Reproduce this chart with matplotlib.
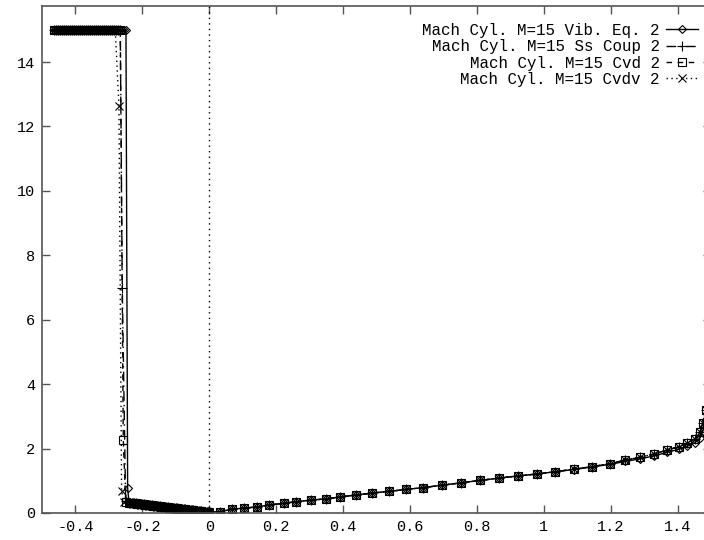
"""Mach number along the stagnation line, cylinder M=15, four models."""

import matplotlib

matplotlib.use("Agg")
import matplotlib.pyplot as plt

# free-stream plateau, shared by all runs
plateau_x = [-0.465, -0.459, -0.453, -0.447, -0.441, -0.435, -0.429, -0.423,
             -0.417, -0.411, -0.405, -0.399, -0.393, -0.387, -0.381, -0.375,
             -0.369, -0.363, -0.357, -0.351, -0.345, -0.339, -0.333, -0.327,
             -0.321, -0.315, -0.309, -0.303, -0.297, -0.291, -0.285]
plateau_y = [15.0] * len(plateau_x)

# shock region, differs per run
shock_x = {
    "vib": [-0.279, -0.273, -0.267, -0.261, -0.255, -0.249, -0.244],
    "ss": [-0.279, -0.273, -0.266, -0.260, -0.250],
    "cvd": [-0.279, -0.273, -0.266, -0.257, -0.250],
    "cvdv": [-0.281, -0.270, -0.262, -0.255],
}
shock_y = {
    "vib": [15.0, 15.0, 15.0, 15.0, 15.0, 15.0, 0.78],
    "ss": [15.0, 15.0, 15.0, 7.0, 0.36],
    "cvd": [15.0, 15.0, 15.0, 2.27, 0.35],
    "cvdv": [15.0, 12.65, 0.68, 0.34],
}

# shock layer up to the wall
band_x = [-0.240, -0.236, -0.232, -0.228, -0.224, -0.220, -0.216, -0.212,
          -0.208, -0.204, -0.200, -0.196, -0.192, -0.188, -0.184, -0.180,
          -0.176, -0.172, -0.168, -0.164, -0.160, -0.156, -0.152, -0.148,
          -0.144, -0.140, -0.136, -0.132, -0.128, -0.124, -0.120, -0.116,
          -0.112, -0.108, -0.104, -0.100, -0.096, -0.092, -0.088, -0.084,
          -0.080, -0.076, -0.072, -0.068, -0.064, -0.060, -0.056, -0.052,
          -0.048, -0.044, -0.040, -0.036, -0.032, -0.028, -0.024, -0.020,
          -0.016, -0.012, -0.008, -0.004, 0.000]
band_y = [0.320, 0.315, 0.310, 0.305, 0.300, 0.295, 0.290, 0.285, 0.280,
          0.275, 0.270, 0.265, 0.260, 0.255, 0.250, 0.245, 0.240, 0.235,
          0.230, 0.225, 0.220, 0.215, 0.210, 0.205, 0.200, 0.195, 0.190,
          0.185, 0.180, 0.175, 0.170, 0.165, 0.160, 0.155, 0.150, 0.145,
          0.140, 0.135, 0.130, 0.125, 0.120, 0.115, 0.110, 0.105, 0.100,
          0.095, 0.090, 0.085, 0.080, 0.075, 0.070, 0.065, 0.060, 0.055,
          0.050, 0.045, 0.040, 0.035, 0.030, 0.025, 0.020]

# along the body
tail_x = [0.033, 0.069, 0.105, 0.144, 0.180, 0.222, 0.260, 0.305, 0.350,
          0.392, 0.440, 0.488, 0.536, 0.588, 0.640, 0.695, 0.754, 0.808,
          0.865, 0.922, 0.979, 1.033, 1.090, 1.144, 1.198, 1.243, 1.287,
          1.329, 1.368, 1.404, 1.428, 1.452, 1.467, 1.476, 1.484]
tail_y = [0.04, 0.12, 0.15, 0.19, 0.25, 0.30, 0.35, 0.40, 0.44, 0.50, 0.56,
          0.62, 0.67, 0.73, 0.79, 0.86, 0.94, 1.01, 1.08, 1.15, 1.21, 1.28,
          1.36, 1.44, 1.53, 1.64, 1.73, 1.83, 1.95, 2.06, 2.17, 2.30, 2.50,
          2.80, 3.20]
tail_y_vib = [0.04, 0.12, 0.15, 0.19, 0.25, 0.30, 0.35, 0.40, 0.44, 0.50,
              0.56, 0.62, 0.67, 0.73, 0.79, 0.86, 0.94, 1.01, 1.08, 1.15,
              1.21, 1.28, 1.35, 1.43, 1.51, 1.60, 1.68, 1.77, 1.88, 1.98,
              2.07, 2.18, 2.33, 2.55, 2.90]

labels = {
    "vib": "Mach Cyl. M=15 Vib. Eq. 2",
    "ss": "Mach Cyl. M=15 Ss Coup 2",
    "cvd": "Mach Cyl. M=15 Cvd 2",
    "cvdv": "Mach Cyl. M=15 Cvdv 2",
}
styles = {
    "vib": dict(marker="D", linestyle="-", markersize=4.5),
    "ss": dict(marker="+", linestyle=(0, (7, 3, 1, 3)), markersize=7),
    "cvd": dict(marker="s", linestyle=(0, (4, 4)), markersize=5.5),
    "cvdv": dict(marker="x", linestyle=(0, (1, 2.5)), markersize=5.5),
}

plt.rcParams["font.family"] = ["Liberation Mono", "DejaVu Sans Mono"]
plt.rcParams["font.size"] = 11
plt.rcParams["axes.unicode_minus"] = False

fig = plt.figure(figsize=(7.04, 5.4), dpi=100)
ax = fig.add_axes([42 / 704, 27 / 540, 669 / 704, 507 / 540])

for key in ["vib", "ss", "cvd", "cvdv"]:
    xs = plateau_x + shock_x[key] + band_x + tail_x
    ty = tail_y_vib if key == "vib" else tail_y
    ys = plateau_y + shock_y[key] + band_y + ty
    ax.plot(xs, ys, color="black", linewidth=1.0, fillstyle="none",
            markeredgewidth=0.8, label=labels[key], **styles[key])

ax.axvline(0.0, color="black", linestyle=(0, (1, 3)), linewidth=1.0)
ax.axhline(0.0, color="black", linestyle=(0, (1, 3)), linewidth=1.0)

ax.set_xlim(-0.5, 1.5)
ax.set_ylim(0, 15.74)
ax.set_xticks([-0.4, -0.2, 0, 0.2, 0.4, 0.6, 0.8, 1, 1.2, 1.4])
ax.set_xticklabels(["-0.4", "-0.2", "0", "0.2", "0.4", "0.6", "0.8", "1",
                    "1.2", "1.4"])
ax.set_yticks([0, 2, 4, 6, 8, 10, 12, 14])
ax.tick_params(direction="in", length=6, width=1, top=True, right=True,
               color="#555555", pad=5)
for spine in ax.spines.values():
    spine.set_color("#555555")
    spine.set_linewidth(1.2)

ax.legend(loc="upper right", bbox_to_anchor=(698 / 704, 1 - 23 / 540),
          bbox_transform=fig.transFigure, frameon=False, markerfirst=False,
          fontsize=11.4, handlelength=2.0, handletextpad=0.4,
          labelspacing=0.08, borderpad=0, borderaxespad=0, numpoints=1)

fig.savefig("out.png", dpi=100)
